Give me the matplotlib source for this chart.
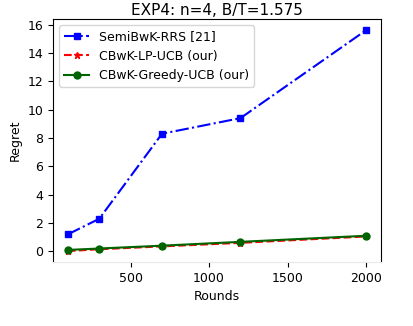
import numpy as np
import matplotlib
matplotlib.use('Agg')
import matplotlib.pyplot as plt

rounds = [100, 300, 700, 1200, 2000]
semibwk_rrs = [1.2, 2.3, 8.3, 9.4, 15.6]
cbwk_lp_ucb = [0.02, 0.15, 0.35, 0.6, 1.05]
cbwk_greedy_ucb = [0.1, 0.2, 0.4, 0.67, 1.1]

fig = plt.figure(figsize=(4.14, 3.26), dpi=100)
ax = fig.add_axes([0.128, 0.196, 0.792, 0.745])

ax.plot(rounds, semibwk_rrs, color='blue', ls='-.', marker='s', markersize=5,
        label='SemiBwK-RRS [21]')
ax.plot(rounds, cbwk_lp_ucb, color='red', ls='--', marker='*', markersize=5,
        label='CBwK-LP-UCB (our)')
ax.plot(rounds, cbwk_greedy_ucb, color='darkgreen', ls='-', marker='o', markersize=5,
        label='CBwK-Greedy-UCB (our)')

ax.set_title("EXP4: n=4, B/T=1.575", fontsize=11, pad=3)
ax.set_xlabel("Rounds", fontsize=9)
ax.set_ylabel("Regret", fontsize=9)
ax.set_yticks(np.arange(0, 17, 2))
ax.set_xticks([500, 1000, 1500, 2000])
ax.tick_params(labelsize=9)
ax.spines['bottom'].set_color('#e8e8e8')
ax.tick_params(axis='x', color='black')
ax.legend(fontsize=9, loc='upper left')

fig.savefig('out.png', dpi=100)
